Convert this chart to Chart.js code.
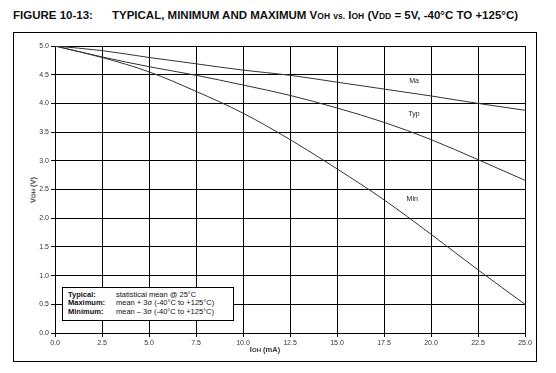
<!DOCTYPE html>
<html>
<head>
<meta charset="utf-8">
<script src="https://cdn.jsdelivr.net/npm/chart.js@4/dist/chart.umd.min.js"></script>
<style>
  html, body { margin: 0; padding: 0; background: #fff; }
  body { width: 556px; height: 373px; position: relative; overflow: hidden; font-family: "Liberation Sans", Arial, sans-serif; }
  #title { position: absolute; left: 13px; top: 9px; font-size: 11.5px; font-weight: bold; color: #111; white-space: nowrap; }
  #title .fig { display: inline-block; width: 99px; }
  .sm { font-size: 8.5px; }
  #frame { position: absolute; left: 13px; top: 32px; width: 522px; height: 328px; border: 1.5px solid #000; }
  #chart { position: absolute; left: 0; top: 0; }
  #ylab { position: absolute; left: 33px; top: 190px; font-size: 7.5px; font-weight: bold; color: #333; transform: translate(-50%, -50%) rotate(-90deg); white-space: nowrap; }
  #xlab { position: absolute; left: 265px; top: 345px; font-size: 7.5px; font-weight: bold; color: #333; transform: translateX(-50%); white-space: nowrap; }
  #xlab .sm, #ylab .sm { font-size: 6px; }
  #note { position: absolute; left: 62px; top: 287px; width: 172px; height: 34px; border: 1px solid #000; background: #fff; font-size: 7.5px; line-height: 8.5px; color: #111; padding: 0; box-sizing: border-box; }
  #note table { border-collapse: collapse; margin: 3px 0 0 5px; }
  #note td { padding: 0; line-height: 8.3px; white-space: nowrap; }
  #note td.k { font-weight: bold; width: 48px; }
</style>
</head>
<body>
<div id="title"><span class="fig">FIGURE 10-13:</span>TYPICAL, MINIMUM AND MAXIMUM V<span class="sm">OH</span> <span class="sm">vs.</span> I<span class="sm">OH</span> (V<span class="sm">DD</span> = 5V, -40°C TO +125°C)</div>
<div id="frame"></div>
<canvas id="chart" width="556" height="373"></canvas>
<div id="ylab">V<span class="sm">OH</span> (V)</div>
<div id="xlab">I<span class="sm">OH</span> (mA)</div>
<div id="note">
  <table>
    <tr><td class="k">Typical:</td><td>statistical mean @ 25°C</td></tr>
    <tr><td class="k">Maximum:</td><td>mean + 3σ (-40°C to +125°C)</td></tr>
    <tr><td class="k">Minimum:</td><td>mean – 3σ (-40°C to +125°C)</td></tr>
  </table>
</div>
<script>
// IOH (mA)
const ioh = [0, 2.5, 5, 7.5, 10, 12.5, 15, 17.5, 20, 22.5, 25];
// VOH (V)
const vohMax = [5.0, 4.92, 4.80, 4.69, 4.58, 4.49, 4.37, 4.25, 4.13, 4.00, 3.88];
const vohTyp = [5.0, 4.81, 4.64, 4.49, 4.32, 4.14, 3.92, 3.67, 3.37, 3.02, 2.66];
const vohMin = [5.0, 4.80, 4.55, 4.21, 3.83, 3.37, 2.86, 2.32, 1.72, 1.10, 0.50];

// curve labels [text, x, y] in data units
const curveLabels = [['Ma', 19.1, 4.39], ['Typ', 19.1, 3.81], ['Min', 19.0, 2.33]];

const pts = ys => ioh.map((x, i) => ({ x: x, y: ys[i] }));

const labelPlugin = {
    id: 'curveLabels',
    afterDatasetsDraw(chart) {
        const ctx = chart.ctx;
        const xs = chart.scales.x, ys = chart.scales.y;
        ctx.save();
        ctx.font = '7px "Liberation Sans", Arial, sans-serif';
        ctx.fillStyle = '#222';
        ctx.textAlign = 'center';
        ctx.textBaseline = 'middle';
        curveLabels.forEach(l => ctx.fillText(l[0], xs.getPixelForValue(l[1]), ys.getPixelForValue(l[2])));
        ctx.restore();
    }
};

const lineSet = (data) => ({
    data: pts(data),
    borderColor: '#333',
    borderWidth: 1,
    pointRadius: 0,
    tension: 0.4,
    cubicInterpolationMode: 'monotone',
    fill: false
});

new Chart(document.getElementById('chart'), {
    type: 'line',
    data: {
        datasets: [lineSet(vohMax), lineSet(vohTyp), lineSet(vohMin)]
    },
    options: {
        responsive: false,
        animation: false,
        layout: { padding: { left: 13, right: 31, top: 46, bottom: 20 } },
        plugins: { legend: { display: false }, tooltip: { enabled: false } },
        scales: {
            x: {
                type: 'linear',
                min: 0,
                max: 25,
                ticks: {
                    stepSize: 2.5,
                    padding: 2,
                    color: '#333',
                    font: { family: '"Liberation Sans", Arial, sans-serif', size: 7 },
                    maxRotation: 0,
                    callback: v => v.toFixed(1)
                },
                grid: { color: '#000', lineWidth: 1, tickLength: 4 },
                border: { color: '#000', width: 1 },
                afterFit: s => { s.height = 20; }
            },
            y: {
                min: 0,
                max: 5,
                ticks: {
                    stepSize: 0.5,
                    padding: 2,
                    color: '#333',
                    font: { family: '"Liberation Sans", Arial, sans-serif', size: 7 },
                    callback: v => v.toFixed(1)
                },
                grid: { color: '#000', lineWidth: 1, tickLength: 4 },
                border: { color: '#000', width: 1 },
                afterFit: s => { s.width = 42; }
            }
        }
    },
    plugins: [labelPlugin]
});
</script>
</body>
</html>
